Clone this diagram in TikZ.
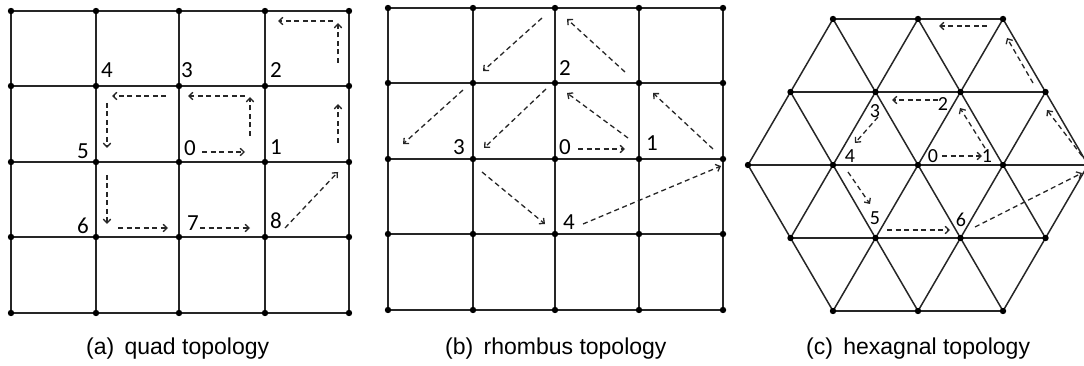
\documentclass[tikz,border=0pt]{standalone}
\usepackage{fontspec}
\setmainfont{Liberation Sans}
\newfontfamily\labfont{Carlito}
\usetikzlibrary{arrows.meta}
\begin{document}
\begin{tikzpicture}[x=1pt,y=-1pt,
  grid/.style={draw=black!85, line width=1.5pt},
  flow/.style={draw=black!85, line width=1.3pt, dash pattern=on 5pt off 3.5pt, -{Straight Barb[length=4pt,width=7.5pt]}},
  lab/.style={font=\labfont\fontsize{23}{23}\selectfont, inner sep=0pt},
  hlab/.style={font=\labfont\fontsize{20}{20}\selectfont, inner sep=0pt},
  captext/.style={font=\fontsize{23}{23}\selectfont, inner sep=0pt, anchor=base west}]
\useasboundingbox (0,0) rectangle (1084,366);

% ---------- (a) quad ----------
\foreach \c/\xx in {0/11,1/96,2/179,3/265,4/349}
  \foreach \r/\yy in {0/11,1/86,2/162,3/237,4/313}
    \coordinate (a\c\r) at (\xx,\yy);
\foreach \i in {0,...,4} {
  \draw[grid] (a\i0) -- (a\i4);
  \draw[grid] (a0\i) -- (a4\i);
}
\foreach \c in {0,...,4} \foreach \r in {0,...,4} \fill (a\c\r) circle (3.2pt);

\foreach \n/\sx/\sy/\ex/\ey in {1/338/63/338/23, 2/333/21/278/21, 3/202/152/245/152,
  4/250/136/250/97, 5/245/96/188/96, 6/166/96/112/96, 7/107/103/107/148,
  8/107/175/107/224, 9/118/228/168/228, 10/200/228/250/228, 11/285/228/338/172,
  12/338/143/338/104} {
  \coordinate (as\n) at (\sx,\sy);
  \coordinate (ae\n) at (\ex,\ey);
  \draw[flow] (as\n) -- (ae\n);
}
\foreach \t/\xx/\yy in {4/107/70, 3/187/70, 2/276/70, 5/83/151, 0/190/148, 1/276/147,
  6/83/226, 7/193/223, 8/276/221}
  \node[lab] (al\t) at (\xx,\yy) {\t};

% ---------- (b) rhombus ----------
\foreach \c/\xx in {0/388,1/473,2/555,3/639,4/723}
  \foreach \r/\yy in {0/8,1/83,2/159,3/234,4/310}
    \coordinate (b\c\r) at (\xx,\yy);
\foreach \i in {0,...,4} {
  \draw[grid] (b\i0) -- (b\i4);
  \draw[grid] (b0\i) -- (b4\i);
}
\foreach \c in {0,...,4} \foreach \r in {0,...,4} \fill (b\c\r) circle (3.2pt);

\foreach \n/\sx/\sy/\ex/\ey in {1/542/18/483/71, 2/625/72/567/19, 3/463/90/403/144,
  4/546/89/484/148, 5/628/138/567/93, 6/713/149/653/93, 7/578/149/625/149,
  8/482/172/545/224, 9/583/224/721/166} {
  \coordinate (bs\n) at (\sx,\sy);
  \coordinate (be\n) at (\ex,\ey);
  \draw[flow] (bs\n) -- (be\n);
}
\foreach \t/\xx/\yy in {2/565/68, 3/459/147, 0/565/147, 1/652/143, 4/569/222}
  \node[lab] (bl\t) at (\xx,\yy) {\t};

% ---------- (c) hexagonal ----------
\foreach \p in {0,...,4} \foreach \q in {0,...,4} {
  \pgfmathtruncatemacro\s{\p+\q}
  \ifnum\s>1 \ifnum\s<7
    \coordinate (h\p\q) at ({918+(\p-2)*85+(\q-2)*42.5},{165-(\q-2)*73});
  \fi\fi
}
\draw[grid] (h20) -- (h40)  (h11) -- (h41)  (h02) -- (h42)  (h03) -- (h33)  (h04) -- (h24);
\draw[grid] (h20) -- (h24)  (h11) -- (h14)  (h02) -- (h04)  (h30) -- (h33)  (h40) -- (h42);
\draw[grid] (h20) -- (h02)  (h30) -- (h03)  (h40) -- (h04)  (h41) -- (h14)  (h42) -- (h24);
\foreach \p in {0,...,4} \foreach \q in {0,...,4} {
  \pgfmathtruncatemacro\s{\p+\q}
  \ifnum\s>1 \ifnum\s<7 \fill (h\p\q) circle (3.2pt); \fi\fi
}

\foreach \n/\sx/\sy/\ex/\ey in {1/942/156/982/156, 2/985/148/960/108, 3/938/100/892/100,
  4/878/117/855/143, 5/848/172/870/204, 6/887/230/950/230, 7/975/227/1082/173,
  8/1082/156/1047/110, 9/1033/83/1007/38, 10/987/26/939/26} {
  \coordinate (cs\n) at (\sx,\sy);
  \coordinate (ce\n) at (\ex,\ey);
  \draw[flow] (cs\n) -- (ce\n);
}
\foreach \t/\xx/\yy in {0/933/156, 1/987/156, 2/943/104, 3/875/111, 4/850/156,
  5/875/218, 6/961/220}
  \node[hlab] (cl\t) at (\xx,\yy) {\t};

% ---------- captions ----------
\node[captext] (capa) at (86,354) {(a)\hspace{0.45em}quad topology};
\node[captext] (capb) at (445,354) {(b)\hspace{0.45em}rhombus topology};
\node[captext] (capc) at (806,354) {(c)\hspace{0.45em}hexagnal topology};
\end{tikzpicture}
\end{document}
